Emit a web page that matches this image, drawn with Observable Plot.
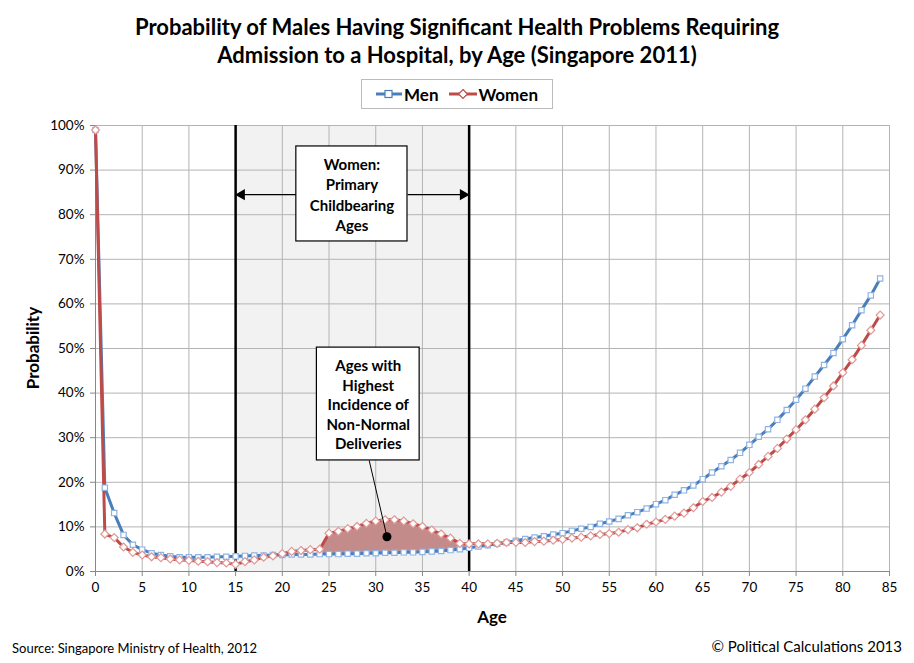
<!DOCTYPE html>
<html>
<head>
<meta charset="utf-8">
<script src="https://cdn.jsdelivr.net/npm/d3@7"></script>
<script src="https://cdn.jsdelivr.net/npm/@observablehq/plot@0.6"></script>
<style>
  body { margin: 0; background: #fff; }
  #wrap { position: relative; width: 914px; height: 663px; font-family: Lato, "Open Sans", sans-serif; color: #000; overflow: hidden; }
  #wrap svg.plot { position: absolute; left: 0; top: 0; }
  .title { position: absolute; top: 13px; left: 0; width: 914px; text-align: center; font-weight: bold; font-size: 22px; line-height: 28px; }
  .legend { position: absolute; left: 361px; top: 79px; width: 190px; height: 28px; border: 1px solid #bcbcbc; background: #fff; display: flex; align-items: center; font-weight: bold; font-size: 17px; }
  .legend svg { display: block; }
  .ylab { position: absolute; left: 32px; top: 348px; transform: translate(-50%, -50%) rotate(-90deg); font-weight: bold; font-size: 17px; white-space: nowrap; }
  .xlab { position: absolute; left: 492px; top: 616px; transform: translate(-50%, -50%); font-weight: bold; font-size: 17px; }
  .src { position: absolute; left: 12px; top: 640px; font-size: 13px; }
  .copy { position: absolute; right: 12px; top: 637px; font-size: 15px; }
</style>
</head>
<body>
<div id="wrap">
  <div class="title">Probability of Males Having Significant Health Problems Requiring<br>Admission to a Hospital, by Age (Singapore 2011)</div>
  <div class="legend">
    <svg width="40" height="20" style="margin-left:12px"><line x1="2" y1="10" x2="28" y2="10" stroke="#4a7ebb" stroke-width="3"/><rect x="11" y="6.5" width="7" height="7" fill="#fff" stroke="#4a7ebb" stroke-width="1.2"/></svg>
    <span style="margin-left:-10px">Men</span>
    <svg width="40" height="20" style="margin-left:9px"><line x1="2" y1="10" x2="30" y2="10" stroke="#be4b48" stroke-width="3"/><path d="M16 5.5 L20.5 10 L16 14.5 L11.5 10 Z" fill="#fff" stroke="#be4b48" stroke-width="1.2"/></svg>
    <span style="margin-left:-9px">Women</span>
  </div>
  <div class="ylab">Probability</div>
  <div class="xlab">Age</div>
  <div class="src">Source: Singapore Ministry of Health, 2012</div>
  <div class="copy">© Political Calculations 2013</div>
</div>
<script>
// ---- data (probability, %) ----
const ages = d3.range(0, 85);
const men = [99.0, 18.8, 13.1, 8.2, 6.0, 4.9, 4.1, 3.7, 3.4, 3.2,
  3.2, 3.2, 3.2, 3.3, 3.3, 3.4, 3.5, 3.6, 3.6, 3.7,
  3.7, 3.8, 3.8, 3.8, 3.9, 3.9, 3.9, 4.0, 4.0, 4.1,
  4.1, 4.2, 4.2, 4.3, 4.3, 4.4, 4.5, 4.6, 4.8, 5.0,
  5.3, 5.6, 5.9, 6.2, 6.5, 6.9, 7.3, 7.6, 7.9, 8.3,
  8.6, 9.1, 9.6, 10.0, 10.7, 11.2, 11.8, 12.6, 13.3, 14.1,
  15.1, 16.0, 17.2, 18.2, 19.3, 20.7, 22.2, 23.6, 25.0, 26.6,
  28.4, 30.2, 31.9, 34.0, 36.2, 38.5, 41.0, 43.7, 46.3, 49.0,
  52.1, 55.2, 58.6, 61.9, 65.7];
const women = [99.0, 8.4, 7.6, 5.5, 4.3, 3.7, 3.3, 3.1, 2.8, 2.6,
  2.5, 2.3, 2.2, 2.0, 1.9, 1.6, 2.2, 2.6, 3.2, 3.5,
  4.0, 4.5, 4.7, 4.9, 5.0, 8.6, 9.0, 9.6, 10.1, 10.8,
  11.3, 11.6, 11.6, 11.3, 10.7, 10.1, 9.3, 8.4, 7.5, 6.3,
  6.2, 6.2, 6.2, 6.3, 6.5, 6.5, 6.5, 6.7, 6.8, 7.0,
  7.2, 7.5, 7.7, 8.0, 8.3, 8.5, 8.8, 9.4, 9.8, 10.6,
  11.1, 11.7, 12.4, 13.1, 14.3, 15.7, 16.6, 17.8, 19.1, 20.7,
  22.2, 24.0, 25.8, 27.6, 29.7, 31.8, 34.0, 36.4, 39.0, 41.6,
  44.6, 47.5, 50.7, 54.1, 57.5];
const xTicks = [0, 5, 10, 15, 20, 25, 30, 35, 40, 45, 50, 55, 60, 65, 70, 75, 80, 85];
const yTicks = [0, 10, 20, 30, 40, 50, 60, 70, 80, 90, 100];
const childbearing = [15, 40];
const highlightAges = [24, 40];
// annotations (age, %)
const note1 = {text: "Women:\nPrimary\nChildbearing\nAges", x1: 21.5, x2: 33.4, y1: 74.0, y2: 95.3};
const note1Arrow = {y: 84.5, from: [21.5, 33.4], to: [15, 40]};
const note2 = {text: "Ages with\nHighest\nIncidence of\nNon-Normal\nDeliveries", x1: 23.7, x2: 34.7, y1: 24.9, y2: 50.2};
const note2Pointer = {x1: 29.3, y1: 24.9, x2: 31.2, y2: 7.8};

const rows = ages.map((a, i) => ({age: a, men: men[i], women: women[i]}));
const band = rows.filter(d => d.age >= highlightAges[0] && d.age <= highlightAges[1]);

const font = "Lato, 'Open Sans', sans-serif";
const chart = Plot.plot({
  width: 914,
  height: 663,
  marginLeft: 95,
  marginRight: 25,
  marginTop: 125,
  marginBottom: 92,
  style: {fontFamily: font, fontSize: "13.5px", color: "#000", background: "transparent", overflow: "visible"},
  x: {domain: [0, 85], label: null},
  y: {domain: [0, 100], label: null},
  marks: [
    Plot.rect([childbearing], {x1: d => d[0], x2: d => d[1], y1: 0, y2: 100, fill: "#f2f2f2"}),
    Plot.gridX(xTicks, {stroke: "#b4b4b4", strokeOpacity: 1, strokeWidth: 1}),
    Plot.gridY(yTicks, {stroke: "#b4b4b4", strokeOpacity: 1, strokeWidth: 1}),
    Plot.axisX({ticks: xTicks, tickSize: 5, tickPadding: 6, stroke: "#888", fill: "#000", label: null}),
    Plot.axisY({ticks: yTicks, tickSize: 5, tickPadding: 6, stroke: "#888", fill: "#000", tickFormat: d => d + "%", label: null}),
    Plot.ruleY([0], {stroke: "#888"}),
    Plot.ruleX([0], {stroke: "#888"}),
    Plot.ruleX(childbearing, {stroke: "#000", strokeWidth: 2.5}),
    Plot.areaY(band, {x: "age", y1: "men", y2: "women", fill: "#c38b8a"}),
    Plot.line(rows, {x: "age", y: "men", stroke: "#4a7ebb", strokeWidth: 3}),
    Plot.line(rows, {x: "age", y: "women", stroke: "#be4b48", strokeWidth: 3}),
    Plot.dot(rows, {x: "age", y: "men", symbol: "square", r: 3, fill: "#fff", stroke: "#8eb4e3", strokeWidth: 1.2}),
    Plot.dot(rows, {x: "age", y: "women", symbol: "diamond2", r: 3.6, fill: "#fff", stroke: "#e09896", strokeWidth: 1.2}),
    // annotation 1
    Plot.link([0, 1], {x1: i => note1Arrow.from[i], x2: i => note1Arrow.to[i], y1: note1Arrow.y, y2: note1Arrow.y, stroke: "#000", strokeWidth: 1.2}),
    Plot.dot([0], {x: i => note1Arrow.to[i], y: note1Arrow.y, symbol: "triangle", r: 4.2, fill: "#000", rotate: -90, dx: 6}),
    Plot.dot([1], {x: i => note1Arrow.to[i], y: note1Arrow.y, symbol: "triangle", r: 4.2, fill: "#000", rotate: 90, dx: -6}),
    Plot.rect([note1], {x1: "x1", x2: "x2", y1: "y1", y2: "y2", fill: "#fff", stroke: "#000", strokeWidth: 1.2}),
    Plot.text([note1], {x: d => (d.x1 + d.x2) / 2, y: d => (d.y1 + d.y2) / 2, text: "text", fontWeight: "bold", fontSize: 15, lineHeight: 1.35, fill: "#000"}),
    // annotation 2
    Plot.link([note2Pointer], {x1: "x1", y1: "y1", x2: "x2", y2: "y2", stroke: "#000", strokeWidth: 1}),
    Plot.dot([note2Pointer], {x: "x2", y: "y2", r: 4.5, fill: "#000"}),
    Plot.rect([note2], {x1: "x1", x2: "x2", y1: "y1", y2: "y2", fill: "#fff", stroke: "#000", strokeWidth: 1.2}),
    Plot.text([note2], {x: d => (d.x1 + d.x2) / 2, y: d => (d.y1 + d.y2) / 2, text: "text", fontWeight: "bold", fontSize: 15, lineHeight: 1.3, fill: "#000"})
  ]
});
chart.classList.add("plot");
document.getElementById("wrap").prepend(chart);
</script>
</body>
</html>
